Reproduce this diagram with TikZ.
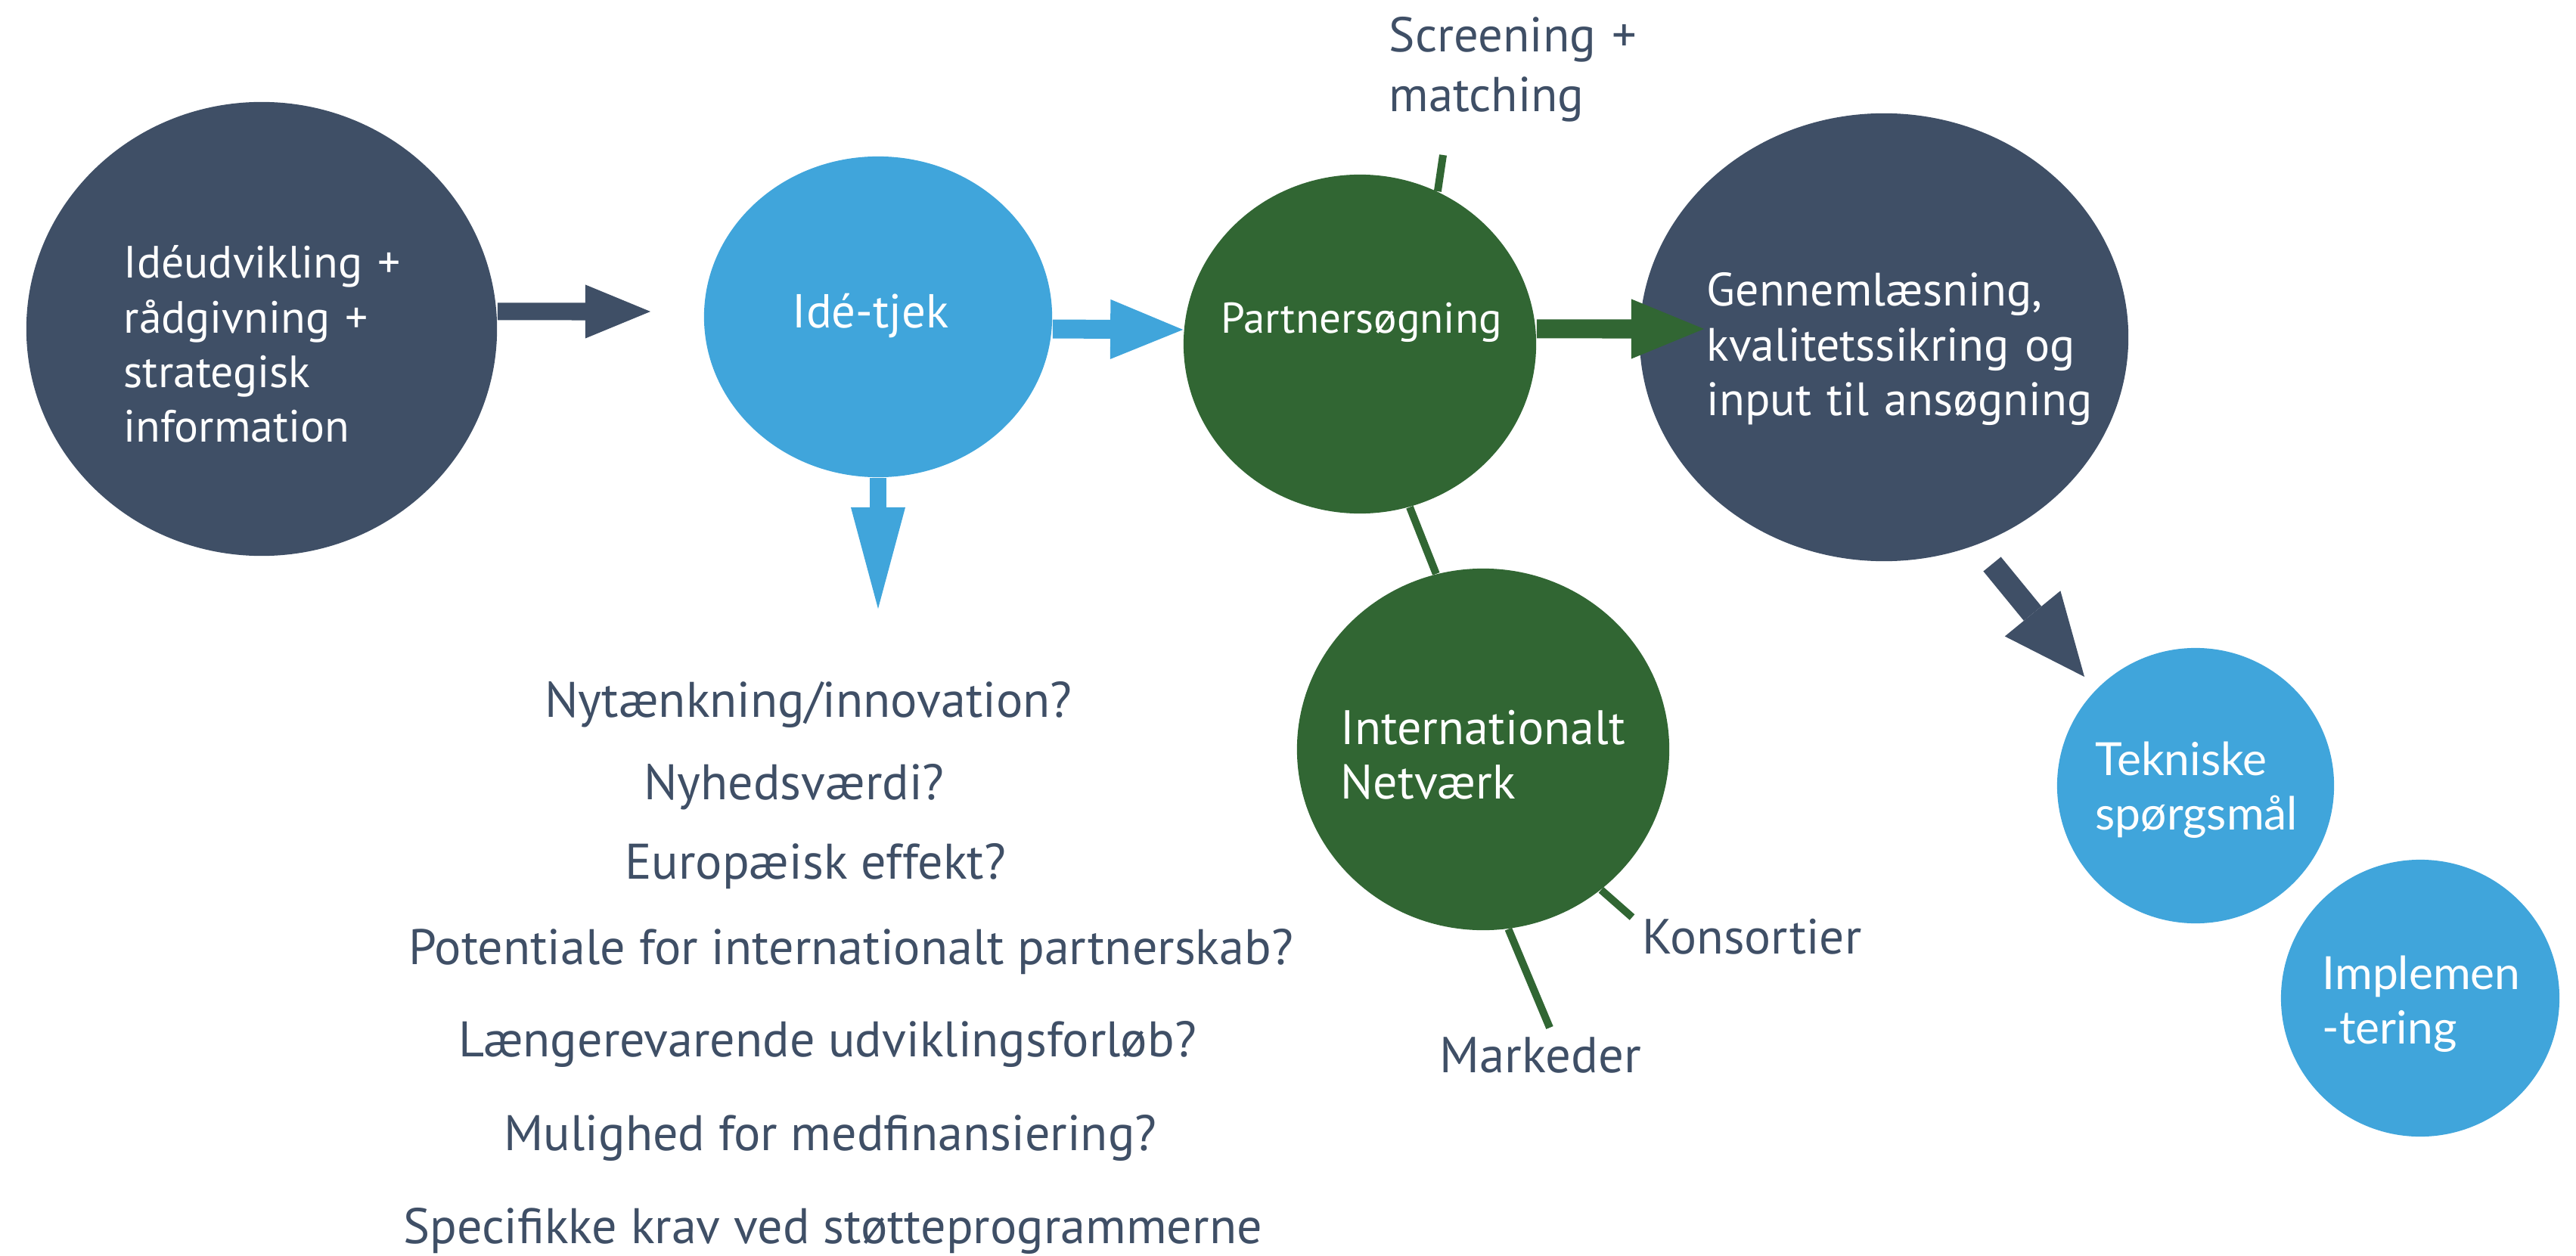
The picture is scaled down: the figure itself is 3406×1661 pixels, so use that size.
\documentclass[tikz,border=0pt]{standalone}
\usepackage{fontspec}
\setmainfont{PT Sans}
\newfontfamily\latofont{Lato}
\usetikzlibrary{shapes.geometric,arrows.meta}
\definecolor{navy}{HTML}{3F4F66}
\definecolor{skyb}{HTML}{40A5DB}
\definecolor{leaf}{HTML}{316633}
\begin{document}
\begin{tikzpicture}[x=0.01cm,y=-0.01cm,
  bubble/.style={ellipse,inner sep=0pt,draw=none},
  txt/.style={inner sep=0pt,text width=8cm,align=left,anchor=base west,font=\fontsize{17}{20.5}\selectfont,text=white},
  lbl/.style={inner sep=0pt,anchor=base west,font=\fontsize{18.6}{22.2}\selectfont,text=navy},
  qtext/.style={inner sep=0pt,anchor=base,font=\fontsize{18.8}{20.5}\selectfont,text=navy},
  link/.style={draw=leaf,line width=0.1cm},
  latotxt/.style={font=\latofont\fontsize{17.2}{20.5}\selectfont}]
\useasboundingbox (0,0) rectangle (3406,1661);
% bubbles
\node[bubble,fill=navy,minimum width=6.22cm,minimum height=6cm] (e1) at (346,435) {};
\node[txt] (t1) at (163,368) {Idéudvikling +\\rådgivning +\\strategisk\\information};
\node[bubble,fill=skyb,minimum width=4.6cm,minimum height=4.24cm] (e2) at (1161,419) {};
\node[txt,font=\fontsize{17.9}{20.5}\selectfont] (t2) at (1047,433) {Idé-tjek};
\node[bubble,fill=leaf,minimum width=4.66cm,minimum height=4.48cm] (e3) at (1798,455) {};
\node[txt,font=\fontsize{16.2}{18}\selectfont] (t3) at (1614,441) {Partnersøgning};
\node[bubble,fill=navy,minimum width=6.46cm,minimum height=5.92cm] (e4) at (2491,446) {};
\node[txt,font=\fontsize{17.6}{20.6}\selectfont] (t4) at (2256,405) {Gennemlæsning,\\kvalitetssikring og\\input til ansøgning};
\node[bubble,fill=leaf,minimum width=4.92cm,minimum height=4.78cm] (e5) at (1961,991) {};
\node[txt,font=\fontsize{18.2}{20.5}\selectfont] (t5) at (1772,984) {Internationalt\\Netværk};
\node[bubble,fill=skyb,minimum width=3.66cm,minimum height=3.64cm] (e6) at (2903,1039) {};
\node[txt,latotxt] (t6) at (2770,1025) {Tekniske\\spørgsmål};
\node[bubble,fill=skyb,minimum width=3.68cm,minimum height=3.66cm] (e7) at (3200,1320) {};
\node[txt,latotxt] (t7) at (3070,1308) {Implemen\\-tering};
% free ends
\coordinate (a1) at (860,412);
\coordinate (a3) at (2253,435);
\coordinate (a4) at (1161,805);
\coordinate (d0) at (2634,746);
\coordinate (d1) at (2756,895);
\coordinate (scr) at (1908,205);
\coordinate (kons) at (2158,1213);
\coordinate (mark) at (2049,1359);
% block arrows
\draw[navy,line width=0.23cm,-{Triangle[length=0.86cm,width=0.71cm,line width=0pt]}] ([yshift=0.23cm]e1.east) -- (a1);
\draw[skyb,line width=0.25cm,-{Triangle[length=0.96cm,width=0.79cm,line width=0pt]}] ([yshift=-0.16cm]e2.east) -- ([yshift=0.19cm]e3.west);
\draw[leaf,line width=0.25cm,-{Triangle[length=0.96cm,width=0.79cm,line width=0pt]}] ([yshift=0.2cm]e3.east) -- (a3);
\draw[skyb,line width=0.22cm,-{Triangle[length=1.34cm,width=0.72cm,line width=0pt]}] (e2.south) -- (a4);
\draw[navy,line width=0.3cm,-{Triangle[length=1.08cm,width=0.95cm,line width=0pt]}] (d0) -- (d1);
% links
\draw[link] (scr) -- (e3.63);
\draw[link] (e3.-73) -- (e5.105.5);
\draw[link] (e5.-50) -- (kons);
\draw[link] (e5.-82) -- (mark);
% labels
\node[lbl,text width=5cm,align=left,font=\fontsize{18.4}{22.2}\selectfont] (scrl) at (1836,69) {Screening +\\matching};
\node[lbl] (konsl) at (2171,1261) {Konsortier};
\node[lbl,font=\fontsize{19}{22}\selectfont] (markl) at (1903,1418) {Markeder};
% questions
\node[qtext] (q1) at (1069,948) {Nytænkning/innovation?};
\node[qtext] (q2) at (1050,1057) {Nyhedsværdi?};
\node[qtext] (q3) at (1078,1162) {Europæisk effekt?};
\node[qtext] (q4) at (1125,1275) {Potentiale for internationalt partnerskab?};
\node[qtext] (q5) at (1094,1397) {Længerevarende udviklingsforløb?};
\node[qtext] (q6) at (1098,1521) {Mulighed for medfinansiering?};
\node[qtext] (q7) at (1101,1644) {Specifikke krav ved støtteprogrammerne};
\end{tikzpicture}
\end{document}
